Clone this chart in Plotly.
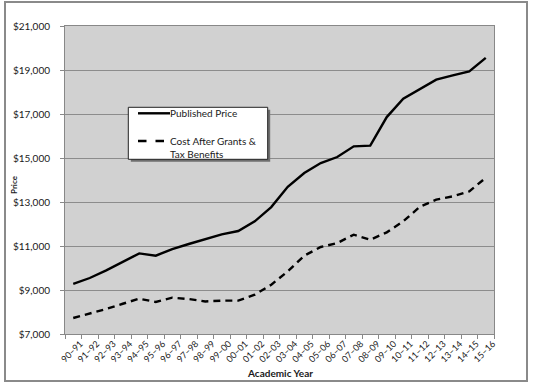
import plotly.graph_objects as go

years = ["90\u201391", "91\u201392", "92\u201393", "93\u201394", "94\u201395", "95\u201396",
         "96\u201397", "97\u201398", "98\u201399", "99\u201300", "00\u201301", "01\u201302",
         "02\u201303", "03\u201304", "04\u201305", "05\u201306", "06\u201307", "07\u201308",
         "08\u201309", "09\u201310", "10\u201311", "11\u201312", "12\u201313", "13\u201314",
         "14\u201315", "15\u201316"]

published_price = [9280, 9545, 9890, 10270, 10665, 10560, 10860, 11090, 11318, 11530,
                   11680, 12120, 12770, 13690, 14320, 14770, 15045, 15530, 15560, 16860,
                   17695, 18135, 18560, 18755, 18935, 19548]

net_price = [7727, 7920, 8135, 8375, 8605, 8455, 8650, 8590, 8480, 8515,
             8515, 8785, 9240, 9845, 10560, 10955, 11135, 11515, 11285, 11620,
             12120, 12780, 13110, 13255, 13485, 14100]

series_names = ["Published Price", "Cost After Grants &<br>Tax Benefits"]
x_title = "Academic Year"
y_title = "Price"

y_ticks = [7000, 9000, 11000, 13000, 15000, 17000, 19000, 21000]

W, H = 533, 387
ML, MR, MT, MB = 65, 39, 26, 53
PW, PH = W - ML - MR, H - MT - MB


def px(x):
    return (x - ML) / PW


def py(y):
    return (H - MB - y) / PH


FONT = "Lato, 'Open Sans', sans-serif"
DASH = "7px,5px"

fig = go.Figure()
fig.add_trace(go.Scatter(x=years, y=published_price, mode="lines", name=series_names[0],
                         line=dict(color="black", width=2.4), showlegend=False))
fig.add_trace(go.Scatter(x=years, y=net_price, mode="lines", name=series_names[1],
                         line=dict(color="black", width=2.4, dash=DASH), showlegend=False))

# legend box geometry (pixels)
LX0, LX1, LY0, LY1 = 128.3, 267.7, 107.3, 159.3

shapes = [
    # outer frame
    dict(type="rect", xref="paper", yref="paper", x0=px(5), x1=px(527), y0=py(381), y1=py(2),
         line=dict(color="#8a8a8a", width=2), layer="below"),
    # legend shadow
    dict(type="rect", xref="paper", yref="paper", x0=px(LX0 + 2.5), x1=px(LX1 + 2.5),
         y0=py(LY1 + 2.5), y1=py(LY0 + 2.5),
         line=dict(width=0), fillcolor="#6e6e6e", layer="above"),
    # legend box
    dict(type="rect", xref="paper", yref="paper", x0=px(LX0), x1=px(LX1),
         y0=py(LY1), y1=py(LY0),
         line=dict(width=1, color="#222222"), fillcolor="white", layer="above"),
    # legend samples
    dict(type="line", xref="paper", yref="paper", x0=px(138), x1=px(170),
         y0=py(113.3), y1=py(113.3), line=dict(color="black", width=2.4), layer="above"),
    dict(type="line", xref="paper", yref="paper", x0=px(138), x1=px(165),
         y0=py(141), y1=py(141), line=dict(color="black", width=2.4, dash="8.5px,9px"),
         layer="above"),
]

annotations = [
    dict(text=series_names[0], xref="paper", yref="paper", x=px(168), y=py(113.3),
         xanchor="left", yanchor="middle", showarrow=False, align="left",
         font=dict(size=10, family=FONT, color="#1a1a1a")),
    dict(text=series_names[1], xref="paper", yref="paper", x=px(168), y=py(147.7),
         xanchor="left", yanchor="middle", showarrow=False, align="left",
         font=dict(size=10, family=FONT, color="#1a1a1a")),
    # axis titles
    dict(text="<b>%s</b>" % x_title, xref="paper", yref="paper", x=px(279.5), y=py(373),
         xanchor="center", yanchor="middle", showarrow=False,
         font=dict(size=10, family=FONT, color="#1a1a1a")),
    dict(text="<b>%s</b>" % y_title, xref="paper", yref="paper", x=px(14), y=py(185),
         xanchor="center", yanchor="middle", showarrow=False, textangle=-90,
         font=dict(size=8, family=FONT, color="#1a1a1a")),
]

fig.update_layout(
    width=W, height=H,
    autosize=False,
    margin=dict(l=ML, r=MR, t=MT, b=MB, pad=0, autoexpand=False),
    paper_bgcolor="white",
    plot_bgcolor="#d1d1d1",
    font=dict(family=FONT, color="#1a1a1a", size=10),
    shapes=shapes,
    annotations=annotations,
    showlegend=False,
    xaxis=dict(
        type="category", tickson="boundaries", ticks="outside", ticklen=4,
        tickcolor="#888888", tickangle=-45, tickfont=dict(size=9, family=FONT),
        ticklabelshift=7, ticklabelstandoff=0, automargin=False,
        showline=True, linecolor="#888888", linewidth=1, mirror=True,
        showgrid=False, range=[-0.5, len(years) - 0.5],
    ),
    yaxis=dict(
        range=[7000, 21000], tickvals=y_ticks, tickformat="$,d", automargin=False,
        ticks="outside", ticklen=4, tickcolor="#888888", ticklabelstandoff=8,
        showline=True, linecolor="#888888", linewidth=1, mirror=True,
        showgrid=True, gridcolor="#8c8c8c", gridwidth=1, zeroline=False,
        tickfont=dict(size=10, family=FONT),
    ),
)

fig.write_html("out.html", config={"displayModeBar": False},
               post_script="document.body.style.margin='0';")
